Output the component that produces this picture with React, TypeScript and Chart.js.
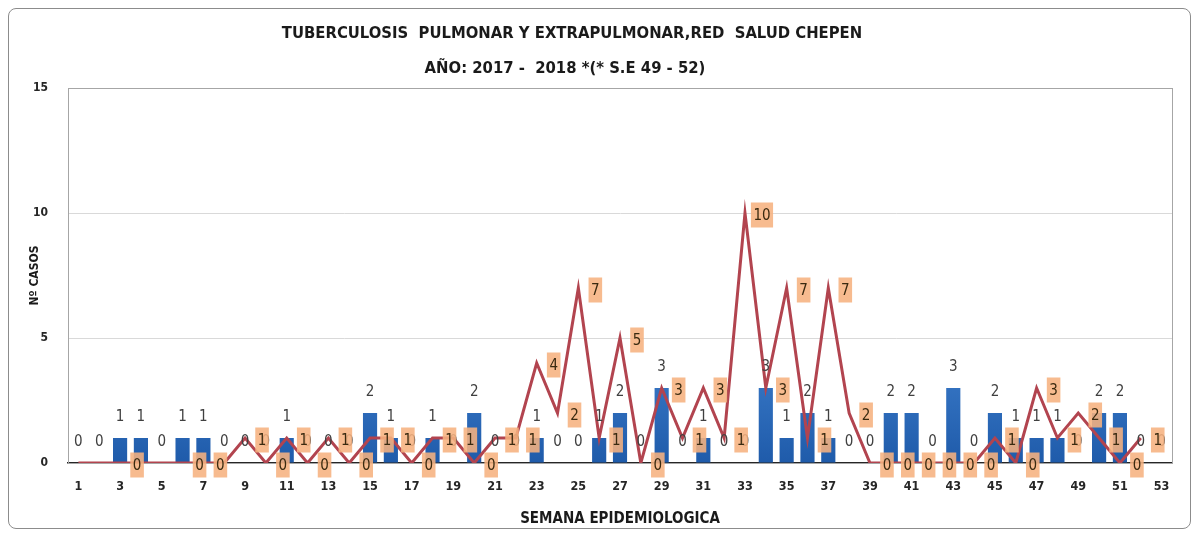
import React, { useEffect, useRef } from "react";
import { Chart, registerables } from "chart.js";

Chart.register(...registerables);

const weeks = [
  "1", "2", "3", "4", "5", "6", "7", "8", "9", "10",
  "11", "12", "13", "14", "15", "16", "17", "18", "19", "20",
  "21", "22", "23", "24", "25", "26", "27", "28", "29", "30",
  "31", "32", "33", "34", "35", "36", "37", "38", "39", "40",
  "41", "42", "43", "44", "45", "46", "47", "48", "49", "50",
  "51", "52", "53",
];

const cases2017 = [
  0, 0, 1, 1, 0, 1, 1, 0, 0, 0,
  1, 0, 0, 0, 2, 1, 0, 1, 0, 2,
  0, 0, 1, 0, 0, 1, 2, 0, 3, 0,
  1, 0, 0, 3, 1, 2, 1, 0, 0, 2,
  2, 0, 3, 0, 2, 1, 1, 1, 0, 2,
  2, 0, 0,
];

const cases2018 = [
  0, 0, 0, 0, 0, 0, 0, 0, 1, 0,
  1, 0, 1, 0, 1, 1, 0, 1, 1, 0,
  1, 1, 4, 2, 7, 1, 5, 0, 3, 1,
  3, 1, 10, 3, 7, 1, 7, 2, 0, 0,
  0, 0, 0, 0, 1, 0, 3, 1, 2, 1,
  0, 1, null,
];

// weeks whose 2018 label is not shown in the reference
const hiddenLineLabels = [1, 2, 4, 5, 8];

const yTicks = [0, 5, 10, 15];

const titleLines = [
  "TUBERCULOSIS  PULMONAR Y EXTRAPULMONAR,RED  SALUD CHEPEN",
  "AÑO: 2017 -  2018 *(* S.E 49 - 52)",
];

const FONT = '"Liberation Sans Narrow", "DejaVu Sans Condensed", "Roboto", sans-serif';

const labelsPlugin = {
  id: "valueLabels",
  beforeDatasetsDraw(chart: any) {
    const { ctx, chartArea } = chart;
    ctx.save();
    ctx.strokeStyle = "#A6A6A6";
    ctx.lineWidth = 1;
    ctx.strokeRect(chartArea.left + 0.5, chartArea.top + 0.5, chartArea.right - chartArea.left, chartArea.bottom - chartArea.top);
    ctx.restore();
  },
  afterDatasetsDraw(chart: any) {
    const { ctx } = chart;
    ctx.save();
    ctx.font = `15px ${FONT}`;
    ctx.textAlign = "center";
    ctx.textBaseline = "middle";
    // bar labels
    const barMeta = chart.getDatasetMeta(1);
    barMeta.data.forEach((el: any, i: number) => {
      const v = cases2017[i];
      if (v === null || v === undefined) return;
      ctx.fillStyle = "#404040";
      ctx.fillText(String(v), el.x, el.y - 21);
    });
    // line labels
    const lineMeta = chart.getDatasetMeta(0);
    lineMeta.data.forEach((el: any, i: number) => {
      const v = cases2018[i];
      if (v === null || v === undefined) return;
      if (hiddenLineLabels.includes(i + 1)) return;
      const t = String(v);
      const w = ctx.measureText(t).width + 5;
      const h = 25;
      const cx = el.x + 17;
      const cy = el.y + 2;
      ctx.fillStyle = "rgba(246, 178, 128, 0.88)";
      ctx.fillRect(cx - w / 2, cy - h / 2, w, h);
      ctx.fillStyle = "#3a2a10";
      ctx.fillText(t, cx, cy + 1);
    });
    ctx.restore();
  },
  afterDraw(chart: any) {
    const { ctx } = chart;
    ctx.save();
    ctx.font = `bold 16.5px ${FONT}`;
    ctx.fillStyle = "#1a1a1a";
    ctx.textAlign = "center";
    ctx.textBaseline = "middle";
    ctx.fillText(titleLines[0], 563, 25);
    ctx.fillText(titleLines[1], 556, 60);
    ctx.restore();
  },
};

export default function App() {
  const canvasRef = useRef<HTMLCanvasElement | null>(null);

  useEffect(() => {
    const canvas = canvasRef.current;
    if (!canvas) return;
    const chart = new Chart(canvas, {
      type: "bar",
      data: {
        labels: weeks,
        datasets: [
          {
            type: "line",
            label: "2018",
            data: cases2018,
            borderColor: "#B2444F",
            backgroundColor: "#B2444F",
            borderWidth: 3,
            pointRadius: 0,
            tension: 0,
            order: 0,
            spanGaps: false,
          } as any,
          {
            type: "bar",
            label: "2017",
            data: cases2017,
            backgroundColor: (c: any) => {
              const area = c.chart.chartArea;
              if (!area) return "#2E6DBF";
              const g = c.chart.ctx.createLinearGradient(0, area.top + 200, 0, area.bottom);
              g.addColorStop(0, "#4B8EDC");
              g.addColorStop(1, "#1F5BAA");
              return g;
            },
            barPercentage: 0.68,
            categoryPercentage: 1,
            order: 1,
          } as any,
        ],
      },
      options: {
        responsive: false,
        animation: false,
        layout: { padding: { top: 79, right: 18, left: 0, bottom: 0 } },
        plugins: {
          legend: { display: false },
          tooltip: { enabled: false },
          title: { display: false },
        },
        scales: {
          x: {
            grid: { display: false, drawTicks: false },
            border: { display: true, color: "#262626", width: 1.5 },
            ticks: {
              autoSkip: false,
              maxRotation: 0,
              padding: 16,
              color: "#262626",
              font: { family: FONT, size: 12.5, weight: "bold" },
              callback: (_v: any, i: number) => (i % 2 === 0 ? weeks[i] : ""),
            },
            title: {
              display: true,
              text: "SEMANA EPIDEMIOLOGICA",
              color: "#1a1a1a",
              font: { family: FONT, size: 15, weight: "bold" },
              padding: { top: 0, bottom: 0 },
            },
            afterFit: (s: any) => {
              s.height = 65;
            },
          },
          y: {
            min: 0,
            max: 15,
            grid: { color: "#D9D9D9", drawTicks: false },
            border: { display: true, color: "#A6A6A6" },
            afterBuildTicks: (s: any) => {
              s.ticks = yTicks.map((v) => ({ value: v }));
            },
            ticks: {
              padding: 20,
              color: "#262626",
              font: { family: FONT, size: 12, weight: "bold" },
            },
            title: {
              display: true,
              text: "Nº CASOS",
              color: "#1a1a1a",
              font: { family: FONT, size: 12, weight: "bold" },
              padding: { top: 19, bottom: 0 },
            },
            afterFit: (s: any) => {
              s.width = 59;
            },
          },
        },
      },
      plugins: [labelsPlugin],
    });
    return () => chart.destroy();
  }, []);

  return (
    <div
      style={{
        width: 1181,
        height: 519,
        border: "1px solid #8c8c8c",
        borderRadius: 8,
        overflow: "hidden",
        background: "#fff",
      }}
    >
      <canvas ref={canvasRef} width={1181} height={519} style={{ display: "block" }} />
    </div>
  );
}
